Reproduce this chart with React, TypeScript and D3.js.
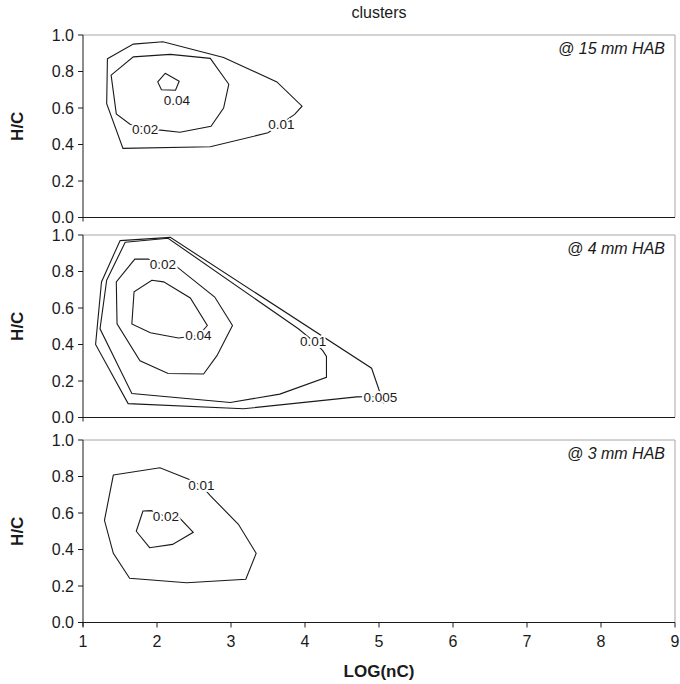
import React from 'react';
import * as d3 from 'd3';

// x = LOG(nC), y = H/C
const xTicks = [1, 2, 3, 4, 5, 6, 7, 8, 9];
const yTicks = [0, 0.2, 0.4, 0.6, 0.8, 1.0];
const panelNames = ['@ 15 mm HAB', '@ 4 mm HAB', '@ 3 mm HAB'];

// @ 15 mm HAB
const hab15_010 = [
  [1.33, 0.87], [1.68, 0.95], [2.08, 0.963], [2.9, 0.877], [3.62, 0.743], [3.96, 0.61],
  [3.86, 0.565], [3.5, 0.464], [2.72, 0.388], [1.54, 0.379], [1.32, 0.624],
];
const hab15_020 = [
  [1.68, 0.88], [2.18, 0.894], [2.72, 0.872], [2.97, 0.73], [2.9, 0.6], [2.73, 0.5],
  [2.31, 0.467], [2.02, 0.48], [1.64, 0.51], [1.45, 0.568], [1.38, 0.78],
];
const hab15_040 = [[2.11, 0.79], [2.3, 0.747], [2.25, 0.697], [2.06, 0.7], [2.01, 0.743]];

// @ 4 mm HAB
const hab4_005 = [
  [1.5, 0.969], [2.18, 0.987], [4.9, 0.27], [5.06, 0.081], [4.95, 0.115], [4.7, 0.113],
  [3.17, 0.048], [1.61, 0.076], [1.17, 0.4], [1.25, 0.743],
];
const hab4_010 = [
  [1.57, 0.96], [2.15, 0.982], [3.91, 0.486], [4.11, 0.42], [4.24, 0.366], [4.29, 0.335],
  [4.29, 0.22], [3.66, 0.128], [2.99, 0.082], [1.66, 0.131], [1.23, 0.486], [1.32, 0.752],
];
const hab4_020 = [
  [1.7, 0.868], [1.88, 0.868], [2.08, 0.84], [2.27, 0.825], [2.78, 0.66], [3.02, 0.504],
  [2.81, 0.339], [2.63, 0.238], [2.15, 0.241], [1.77, 0.311], [1.46, 0.513], [1.45, 0.743],
];
const hab4_040 = [
  [1.93, 0.752], [2.09, 0.743], [2.45, 0.655], [2.68, 0.504], [2.56, 0.449], [2.29, 0.436],
  [1.91, 0.464], [1.66, 0.513], [1.69, 0.689],
];

// @ 3 mm HAB
const hab3_010 = [
  [1.41, 0.808], [2.04, 0.848], [2.42, 0.786], [2.6, 0.75], [2.72, 0.695], [3.1, 0.538],
  [3.34, 0.379], [3.2, 0.237], [2.4, 0.218], [1.63, 0.242], [1.41, 0.379], [1.29, 0.56],
];
const hab3_020 = [
  [1.81, 0.611], [1.92, 0.613], [2.12, 0.58], [2.31, 0.571], [2.49, 0.494], [2.21, 0.428],
  [1.9, 0.41], [1.72, 0.5],
];

// contour labels: [text, x, y]
const hab15_labels = [['0.01', 3.68, 0.51], ['0.02', 1.84, 0.486], ['0.04', 2.27, 0.64]];
const hab4_labels = [['0.005', 5.02, 0.11], ['0.01', 4.11, 0.42], ['0.02', 2.08, 0.84], ['0.04', 2.56, 0.449]];
const hab3_labels = [['0.01', 2.6, 0.75], ['0.02', 2.12, 0.58]];

const panels = [
  { name: panelNames[0], contours: [hab15_010, hab15_020, hab15_040], labels: hab15_labels },
  { name: panelNames[1], contours: [hab4_005, hab4_010, hab4_020, hab4_040], labels: hab4_labels },
  { name: panelNames[2], contours: [hab3_010, hab3_020], labels: hab3_labels },
];

const W = 680;
const H = 684;
const left = 83;
const right = 675;
const panelTops = [35, 235, 440];
const panelH = 182.5;
const font = 'Liberation Sans, Arial, Helvetica, sans-serif';
const ink = '#1a1a1a';

const x = d3.scaleLinear().domain([1, 9]).range([left, right]);

const Panel = ({ panel, top, last }) => {
  const y = d3.scaleLinear().domain([0, 1]).range([top + panelH, top]);
  const line = d3
    .line()
    .x((d) => x(d[0]))
    .y((d) => y(d[1]))
    .curve(d3.curveLinearClosed);
  const bottom = top + panelH;

  return (
    <g>
      {/* frame: grey top/right, black left/bottom */}
      <line x1={left} x2={right} y1={top} y2={top} stroke="#a6a6a6" />
      <line x1={right} x2={right} y1={top} y2={bottom} stroke="#a6a6a6" />

      {panel.contours.map((c, i) => (
        <path key={i} d={line(c)} fill="none" stroke={ink} strokeWidth={1.1} />
      ))}
      {panel.labels.map((l, i) => (
        <text
          key={i}
          x={x(l[1])}
          y={y(l[2])}
          dy="0.35em"
          textAnchor="middle"
          fontSize={13.5}
          fontFamily={font}
          fill={ink}
          stroke="#fff"
          strokeWidth={4}
          paintOrder="stroke"
        >
          {l[0]}
        </text>
      ))}

      <line x1={left} x2={left} y1={top} y2={bottom + 4} stroke={ink} />
      <line x1={left} x2={right} y1={bottom} y2={bottom} stroke={ink} />
      {yTicks.map((t) => (
        <g key={t}>
          <line x1={left - 5} x2={left} y1={y(t)} y2={y(t)} stroke={ink} />
          <text
            x={left - 9}
            y={y(t)}
            dy="0.36em"
            textAnchor="end"
            fontSize={16}
            fontFamily={font}
            fill={ink}
          >
            {t.toFixed(1)}
          </text>
        </g>
      ))}
      {last &&
        xTicks.map((t) => (
          <g key={t}>
            <line x1={x(t)} x2={x(t)} y1={bottom} y2={bottom + 5} stroke={ink} />
            <text
              x={x(t)}
              y={bottom + 24}
              textAnchor="middle"
              fontSize={16}
              fontFamily={font}
              fill={ink}
            >
              {t}
            </text>
          </g>
        ))}

      <text
        x={right - 10}
        y={top + 19}
        textAnchor="end"
        fontSize={16}
        fontStyle="italic"
        fontFamily={font}
        fill={ink}
      >
        {panel.name}
      </text>
      <text
        transform={`translate(23,${top + panelH / 2}) rotate(-90)`}
        textAnchor="middle"
        fontSize={17}
        fontWeight="bold"
        fontFamily={font}
        fill={ink}
      >
        H/C
      </text>
    </g>
  );
};

export default function App() {
  return (
    <svg
      width={W}
      height={H}
      style={{ position: 'absolute', left: 0, top: 0, background: '#fff' }}
    >
      <rect width={W} height={H} fill="#fff" />
      <text x={(left + right) / 2} y={18} textAnchor="middle" fontSize={16} fontFamily={font} fill={ink}>
        clusters
      </text>
      {panels.map((p, i) => (
        <Panel key={i} panel={p} top={panelTops[i]} last={i === panels.length - 1} />
      ))}
      <text
        x={(left + right) / 2}
        y={677}
        textAnchor="middle"
        fontSize={17}
        fontWeight="bold"
        fontFamily={font}
        fill={ink}
      >
        LOG(nC)
      </text>
    </svg>
  );
}
